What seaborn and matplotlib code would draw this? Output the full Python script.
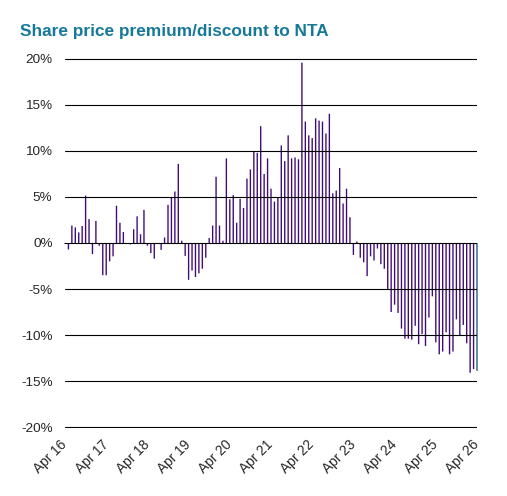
import matplotlib
matplotlib.use("Agg")
import matplotlib.pyplot as plt
import seaborn as sns
import pandas as pd
import numpy as np

# Monthly share price premium/discount to NTA (%), Apr 2016 .. Apr 2026
months = pd.date_range("2016-04-01", periods=121, freq="MS").strftime("%b %y").tolist()
premium = [
    -0.1, -0.7, 1.9, 1.7, 1.15, 1.85, 5.15, 2.6, -1.2, 2.4,
    -0.3, -3.5, -3.5, -2.0, -1.45, 4.05, 2.2, 1.2, 0.0, -0.15,
    1.5, 2.9, 0.95, 3.6, -0.3, -1.1, -1.7, -0.1, -0.75, 0.6,
    4.15, 5.0, 5.6, 8.6, 0.25, -1.4, -4.0, -3.0, -3.7, -3.3,
    -2.8, -1.6, 0.55, 1.9, 7.2, 1.9, 0.25, 9.2, 4.75, 5.2,
    2.2, 4.8, 3.8, 7.0, 8.0, 9.9, 9.8, 12.7, 7.5, 9.2,
    5.9, 4.5, 4.9, 10.6, 8.9, 11.7, 9.2, 9.3, 9.1, 19.6,
    13.2, 11.7, 11.4, 13.55, 13.3, 13.2, 11.9, 14.05, 5.4, 5.7,
    8.15, 4.3, 5.9, 2.8, -1.3, 0.15, -1.6, -2.1, -3.6, -1.45,
    -1.9, -0.6, -2.3, -2.8, -5.0, -7.5, -6.7, -7.6, -9.3, -10.4,
    -10.4, -10.5, -9.0, -11.0, -9.9, -11.2, -8.1, -5.8, -10.8, -12.1,
    -11.8, -9.7, -12.1, -11.8, -8.3, -10.1, -8.9, -10.9, -14.1, -13.7,
    -13.9,
]
tick_labels = ["Apr 16", "Apr 17", "Apr 18", "Apr 19", "Apr 20", "Apr 21",
               "Apr 22", "Apr 23", "Apr 24", "Apr 25", "Apr 26"]
y_ticks = [20, 15, 10, 5, 0, -5, -10, -15, -20]

df = pd.DataFrame({"idx": np.arange(len(premium)), "month": months, "premium": premium})

sns.set_style("white")
plt.rcParams["font.family"] = ["Liberation Sans", "DejaVu Sans"]

BAR = "#3f0c76"
LAST = "#1d5f7c"
TEAL = "#17799a"

fig = plt.figure(figsize=(5.07, 4.96), dpi=100)
ax = fig.add_axes([65 / 507, 1 - 428.4 / 496, 412 / 507, 370.8 / 496])

sns.barplot(data=df, x="idx", y="premium", native_scale=True, color=BAR,
            saturation=1, width=0.4, linewidth=0, ax=ax)

for p in ax.patches:
    p.set_snap(False)
    p.set_clip_on(False)
ax.patches[-1].set_facecolor(LAST)

ax.set_xlim(0, 120)
ax.set_ylim(-20.15, 20.15)
ax.set_yticks(y_ticks)
ax.set_yticklabels([f"{v}%" for v in y_ticks], fontsize=9.7)
ax.set_xticks(range(0, 121, 12))
ax.set_xticklabels(tick_labels, rotation=45, ha="right", va="center",
                   rotation_mode="anchor", fontsize=9.9)
ax.tick_params(axis="y", length=0, pad=9)
ax.tick_params(axis="x", length=0, pad=10)
ax.set_xlabel("")
ax.set_ylabel("")
for s in ax.spines.values():
    s.set_visible(False)
ax.yaxis.grid(True, color="black", linewidth=0.8)
ax.xaxis.grid(False)
ax.set_axisbelow(False)
for gl in ax.get_ygridlines():
    gl.set_zorder(3)

fig.text(20 / 507, 1 - 36 / 496, "Share price premium/discount to NTA",
         fontsize=12.4, fontweight="bold", color=TEAL, va="baseline", ha="left")

fig.savefig("out.png", dpi=100, facecolor="white")
